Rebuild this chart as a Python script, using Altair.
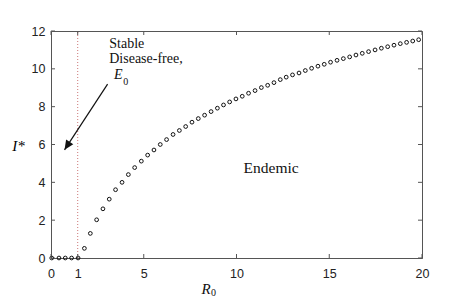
import altair as alt
import pandas as pd

# Data
r0_vals = [0.04, 0.43, 0.77, 1.11, 1.46,
           1.80, 2.12, 2.46, 2.80, 3.14, 3.48, 3.83, 4.17, 4.51, 4.87, 5.21, 5.55,
           5.89, 6.23, 6.58, 6.92, 7.26, 7.60, 7.94, 8.28, 8.63, 8.97, 9.30, 9.63,
           9.97, 10.31, 10.65, 11.00, 11.34, 11.68, 12.02, 12.36, 12.68,
           13.02, 13.37, 13.71, 14.05, 14.39, 14.73, 15.07, 15.42, 15.76, 16.10,
           16.44, 16.78, 17.12, 17.47, 17.81, 18.15, 18.49, 18.83, 19.17, 19.50, 19.82]
i_vals = [0, 0, 0, 0, 0,
          0.51, 1.30, 2.02, 2.60, 3.11, 3.61, 4.00, 4.41, 4.78, 5.12, 5.44, 5.71,
          6.00, 6.26, 6.53, 6.74, 6.95, 7.18, 7.37, 7.55, 7.74, 7.92, 8.09, 8.25,
          8.41, 8.55, 8.71, 8.85, 9.01, 9.13, 9.27, 9.43, 9.56,
          9.68, 9.78, 9.91, 10.03, 10.14, 10.24, 10.35, 10.45, 10.54, 10.63,
          10.73, 10.82, 10.91, 11.00, 11.09, 11.17, 11.25, 11.33, 11.40, 11.47, 11.54]

x_tick_values = [0, 1.44, 5, 10, 15, 20]
x_tick_labels = ["0", "1", "5", "10", "15", "20"]
y_tick_values = [0, 2, 4, 6, 8, 10, 12]
threshold_x = 1.44

ann_lines = ["Stable", "Disease-free,"]
ann_x = [3.14, 3.14]
ann_y = [11.31, 10.52]
e0_label = "E"
e0_sub = "0"
e0_pos = (3.4, 9.68)
e0_sub_pos = (3.9, 9.55)
endemic_label = "Endemic"
endemic_pos = (10.38, 4.77)
arrow_start = (3.05, 9.19)
arrow_end = (0.73, 5.72)
x_title, x_title_sub = "R", "0"
y_title = "I*"

W, H = 371, 227

df = pd.DataFrame({"R0": r0_vals, "I": i_vals})
xs = alt.Scale(domain=[0, 20], nice=False)
ys = alt.Scale(domain=[0, 12], nice=False)

label_map = "{" + ",".join(f"'{v}':'{l}'" for v, l in zip(x_tick_values, x_tick_labels)) + "}"

x_axis = alt.Axis(values=x_tick_values, ticks=False, tickSize=0, labelPadding=9,
                  labelFlush=False, labelOverlap=False,
                  labelExpr=f"{label_map}[''+datum.value]",
                  title=None, grid=False)
y_axis = alt.Axis(values=y_tick_values, ticks=False, tickSize=0, labelPadding=6,
                  labelFlush=False, labelOverlap=False,
                  title=y_title, titleFont="Liberation Serif", titleFontStyle="italic",
                  titleFontWeight="normal", titleFontSize=15, titleAngle=0,
                  titleX=-33, titleY=114, titleAlign="center",
                  titleBaseline="middle", grid=False)


def X(f):
    return alt.X(f, scale=xs, axis=x_axis)


def Y(f):
    return alt.Y(f, scale=ys, axis=y_axis)


points = alt.Chart(df).mark_point(
    shape="circle", filled=False, color="#111", size=14, strokeWidth=1, opacity=1
).encode(x=X("R0:Q"), y=Y("I:Q"))

thr = alt.Chart(pd.DataFrame({"x": [threshold_x], "y": [0], "y2": [12]})).mark_rule(
    color="#c77", strokeDash=[1, 2], strokeWidth=1
).encode(x=X("x:Q"), y=Y("y:Q"), y2="y2:Q")

xt = pd.DataFrame({"v": x_tick_values})
yt = pd.DataFrame({"v": y_tick_values})
tick_color = "#555"
bt = alt.Chart(xt).mark_rule(color=tick_color).encode(
    x=X("v:Q"), y=alt.value(H), y2=alt.value(H - 4))
tt = alt.Chart(xt).mark_rule(color=tick_color).encode(
    x=X("v:Q"), y=alt.value(0), y2=alt.value(4))
lt = alt.Chart(yt).mark_rule(color=tick_color).encode(
    y=Y("v:Q"), x=alt.value(0), x2=alt.value(4))
rt = alt.Chart(yt).mark_rule(color=tick_color).encode(
    y=Y("v:Q"), x=alt.value(W - 4), x2=alt.value(W))

ann = alt.Chart(pd.DataFrame({"t": ann_lines, "x": ann_x, "y": ann_y})).mark_text(
    font="Liberation Serif", fontSize=14, align="left", baseline="middle", color="#111"
).encode(x=X("x:Q"), y=Y("y:Q"), text="t:N")

e0 = alt.Chart(pd.DataFrame({"t": [e0_label], "x": [e0_pos[0]], "y": [e0_pos[1]]})).mark_text(
    font="Liberation Serif", fontSize=14, fontStyle="italic", align="left",
    baseline="middle", color="#111"
).encode(x=X("x:Q"), y=Y("y:Q"), text="t:N")

e0s = alt.Chart(pd.DataFrame({"t": [e0_sub], "x": [e0_sub_pos[0]], "y": [e0_sub_pos[1]]})).mark_text(
    font="Liberation Serif", fontSize=10, align="left", baseline="top", color="#111"
).encode(x=X("x:Q"), y=Y("y:Q"), text="t:N")

end = alt.Chart(pd.DataFrame({"t": [endemic_label], "x": [endemic_pos[0]], "y": [endemic_pos[1]]})).mark_text(
    font="Liberation Serif", fontSize=15.5, align="left", baseline="middle", color="#111"
).encode(x=X("x:Q"), y=Y("y:Q"), text="t:N")

xtitle = alt.Chart(pd.DataFrame({"t": [x_title]})).mark_text(
    font="Liberation Serif", fontSize=15, fontStyle="italic", align="center",
    baseline="middle", color="#111"
).encode(x=alt.value(155), y=alt.value(H + 31), text="t:N")
xtitle_sub = alt.Chart(pd.DataFrame({"t": [x_title_sub]})).mark_text(
    font="Liberation Serif", fontSize=10, align="left", baseline="middle", color="#111"
).encode(x=alt.value(160), y=alt.value(H + 35), text="t:N")

arrow_line = alt.Chart(pd.DataFrame({"x": [arrow_start[0]], "y": [arrow_start[1]],
                                     "x2": [arrow_end[0]], "y2": [arrow_end[1]]})).mark_rule(
    color="#111", strokeWidth=1.2
).encode(x=X("x:Q"), y=Y("y:Q"), x2="x2:Q", y2="y2:Q")

arrow_head = alt.Chart(pd.DataFrame({"x": [arrow_end[0]], "y": [arrow_end[1]]})).mark_point(
    shape="M0,0 L-0.45,1 L0.45,1 Z", filled=True, color="#111", size=360, angle=213, opacity=1
).encode(x=X("x:Q"), y=Y("y:Q"))

chart = alt.layer(points, thr, bt, tt, lt, rt, arrow_line, arrow_head, ann, e0, e0s, end,
                  xtitle, xtitle_sub).properties(
    width=W, height=H,
    autosize=alt.AutoSizeParams(type="none"),
    padding={"left": 43, "top": 23, "right": 30, "bottom": 40},
).configure_view(
    stroke="#555", strokeWidth=1
).configure_axis(
    labelFont="Liberation Sans", labelFontSize=12.5, labelColor="#222",
    domainColor="#555", domainWidth=1
)

chart.save("out.html", embed_options={"renderer": "svg", "actions": False})
